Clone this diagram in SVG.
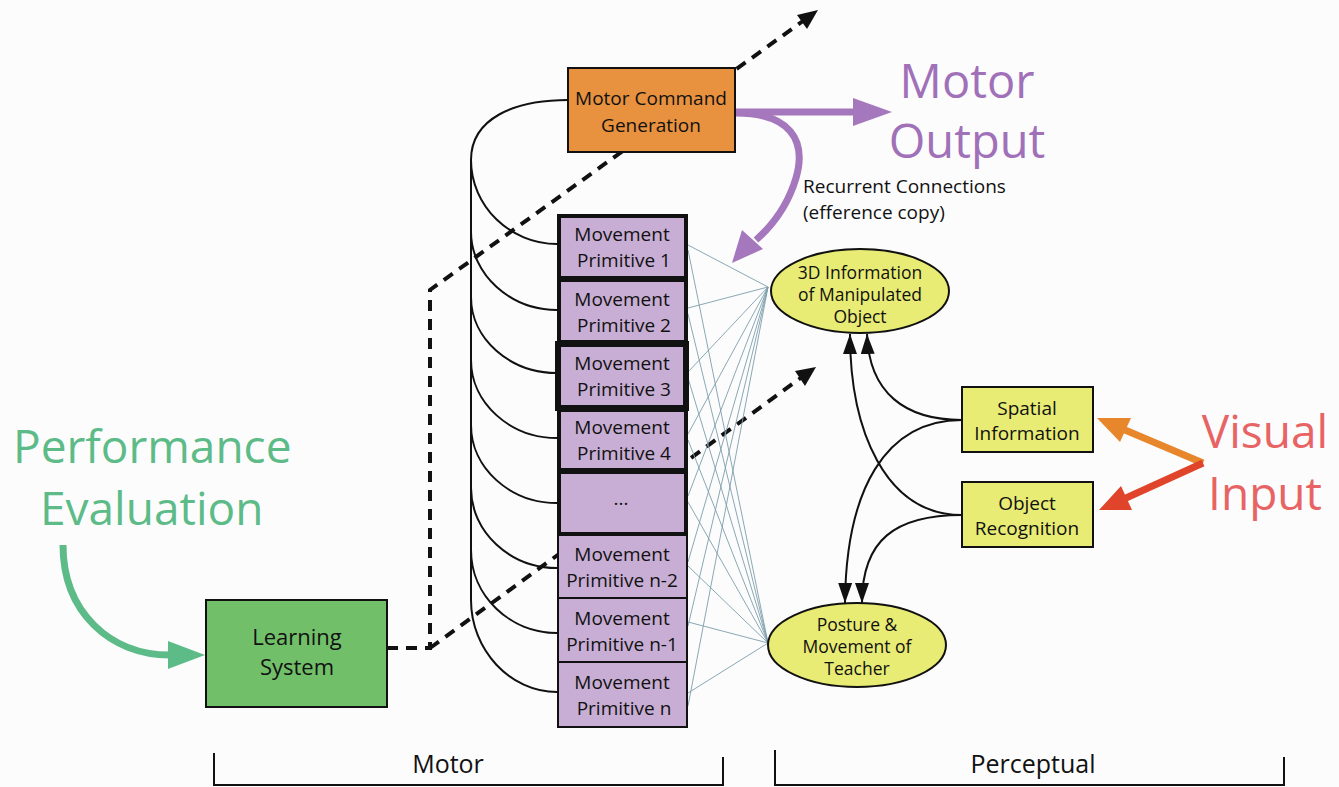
<svg xmlns="http://www.w3.org/2000/svg" width="1339" height="787" viewBox="0 0 1339 787">
<defs>
<style>
text{font-family:"Open Sans","Liberation Sans",sans-serif;fill:#111;}
.lbl{font-size:19px;text-anchor:middle;}
.elbl{font-size:17.5px;text-anchor:middle;}
.big{font-size:46px;}
.prim{fill:#c8aed4;stroke:#111;}
.dash{fill:none;stroke:#111;stroke-width:4;stroke-dasharray:11 8;}
.bus{fill:none;stroke:#111;stroke-width:2;}
.thin{stroke:#7d9eaa;stroke-width:0.9;}
.pc{fill:none;stroke:#111;stroke-width:2;}
.ell{fill:#e8ec74;stroke:#111;stroke-width:2;}
.ybox{fill:#e8ec74;stroke:#111;stroke-width:2;}
</style>
<marker id="ah" viewBox="0 0 20 14" refX="20" refY="7" markerUnits="userSpaceOnUse" markerWidth="20" markerHeight="14" orient="auto">
<path d="M0,0 L20,7 L0,14 z" fill="#111"/>
</marker>
</defs>
<rect width="1339" height="787" fill="#fcfcfd"/>

<g id="connectors">
<path class="dash" d="M387 648 L430 648 L430 290 L803 21"/>
<polygon points="818,10 797,15 807,29" fill="#111"/>
<path class="dash" d="M430 648 L802 377"/>
<polygon points="816,367 795,371 805,386" fill="#111"/>
<path class="bus" d="M568 100 C515 100 471 118 471 160 L471 600"/>
<path class="bus" d="M471 160 C471 206 510 244 557 244"/>
<path class="bus" d="M471 232 C471 274 510 310 557 310"/>
<path class="bus" d="M471 297 C471 339 510 373 557 373"/>
<path class="bus" d="M471 360 C471 403 510 438 557 438"/>
<path class="bus" d="M471 425 C471 468 510 503 557 503"/>
<path class="bus" d="M471 488 C471 532 510 568 557 568"/>
<path class="bus" d="M471 550 C471 596 510 633 557 633"/>
<path class="bus" d="M471 600 C471 650 510 692 557 692"/>
<g class="thin">
<line x1="688" y1="245" x2="768" y2="287"/><line x1="688" y1="250" x2="768" y2="643"/>
<line x1="688" y1="308" x2="768" y2="287"/><line x1="688" y1="314" x2="768" y2="643"/>
<line x1="688" y1="372" x2="768" y2="287"/><line x1="688" y1="378" x2="768" y2="643"/>
<line x1="688" y1="434" x2="768" y2="287"/><line x1="688" y1="440" x2="768" y2="643"/>
<line x1="688" y1="496" x2="768" y2="287"/><line x1="688" y1="502" x2="768" y2="643"/>
<line x1="688" y1="562" x2="768" y2="287"/><line x1="688" y1="566" x2="768" y2="643"/>
<line x1="688" y1="626" x2="768" y2="287"/><line x1="688" y1="622" x2="768" y2="643"/>
<line x1="688" y1="706" x2="768" y2="287"/><line x1="688" y1="693" x2="768" y2="643"/>
</g>
<path d="M735 112 L856 112" fill="none" stroke="#a577bc" stroke-width="7"/>
<polygon points="892,112 853,98 853,126" fill="#a577bc"/>
<path d="M735 113 C790 113 807 140 796 178 C788 205 773 225 756 240" fill="none" stroke="#a577bc" stroke-width="7"/>
<polygon points="732,263 742,230 763,249" fill="#a577bc"/>
<path d="M63 545 C63 612 110 655 170 655" fill="none" stroke="#5dbb88" stroke-width="7"/>
<polygon points="205,655 168,641 168,669" fill="#5dbb88"/>
<path d="M1203 463 L1125 430" fill="none" stroke="#e8862c" stroke-width="7"/>
<polygon points="1097,418 1131,418 1120,442" fill="#e8862c"/>
<path d="M1203 463 L1126 498" fill="none" stroke="#e0442a" stroke-width="7"/>
<polygon points="1099,510 1121,486 1132,510" fill="#e0442a"/>
<path class="pc" d="M962 420 C905 420 869 393 867 334" marker-end="url(#ah)"/>
<path class="pc" d="M962 420 C885 420 846 490 845 603" marker-end="url(#ah)"/>
<path class="pc" d="M962 515 C885 515 850 430 850 334" marker-end="url(#ah)"/>
<path class="pc" d="M962 515 C895 515 862 540 862 603" marker-end="url(#ah)"/>
</g>

<g id="performance-evaluation">
<text class="big" x="13" y="463" style="fill:#5dbb88">Performance</text>
<text class="big" x="40" y="525" style="fill:#5dbb88">Evaluation</text>
</g>

<g id="learning-system">
<rect x="206" y="600" width="181" height="107" fill="#72bf6a" stroke="#111" stroke-width="2"/>
<text class="lbl" x="297" y="645" style="font-size:22px">Learning</text>
<text class="lbl" x="297" y="675" style="font-size:22px">System</text>
</g>

<g id="motor-command-generation">
<rect x="568" y="68" width="167" height="84" fill="#e8913f" stroke="#111" stroke-width="2"/>
<text class="lbl" x="651" y="105">Motor Command</text>
<text class="lbl" x="651" y="132">Generation</text>
</g>

<g id="motor-output">
<text class="big" x="967" y="98" text-anchor="middle" style="fill:#a070b8;font-size:47px">Motor</text>
<text class="big" x="967" y="158" text-anchor="middle" style="fill:#a070b8;font-size:47px">Output</text>
</g>

<g id="recurrent-label">
<text x="803" y="193" style="font-size:19px">Recurrent Connections</text>
<text x="803" y="219" style="font-size:19px">(efference copy)</text>
</g>

<g id="primitive-n-2">
<rect class="prim" x="558" y="534" width="129" height="64" stroke-width="2"/>
<text class="lbl" x="622" y="561">Movement</text>
<text class="lbl" x="622" y="587">Primitive n-2</text>
</g>
<g id="primitive-n-1">
<rect class="prim" x="558" y="598" width="129" height="64" stroke-width="2"/>
<text class="lbl" x="622" y="625">Movement</text>
<text class="lbl" x="622" y="651">Primitive n-1</text>
</g>
<g id="primitive-n">
<rect class="prim" x="558" y="662" width="129" height="65" stroke-width="2"/>
<text class="lbl" x="622" y="689">Movement</text>
<text class="lbl" x="624" y="715">Primitive n</text>
</g>
<g id="primitive-dots">
<rect class="prim" x="559" y="472" width="127" height="62" stroke-width="4"/>
<text class="lbl" x="621" y="505">...</text>
</g>
<g id="primitive-4">
<rect class="prim" x="559" y="410" width="127" height="60" stroke-width="4"/>
<text class="lbl" x="622" y="434">Movement</text>
<text class="lbl" x="624" y="460">Primitive 4</text>
</g>
<g id="primitive-2">
<rect class="prim" x="559" y="280" width="127" height="62" stroke-width="4"/>
<text class="lbl" x="622" y="306">Movement</text>
<text class="lbl" x="624" y="332">Primitive 2</text>
</g>
<g id="primitive-1">
<rect class="prim" x="559" y="216" width="127" height="62" stroke-width="4"/>
<text class="lbl" x="622" y="241">Movement</text>
<text class="lbl" x="624" y="267">Primitive 1</text>
</g>
<g id="primitive-3">
<rect class="prim" x="558" y="344" width="128" height="64" stroke-width="6"/>
<text class="lbl" x="622" y="370">Movement</text>
<text class="lbl" x="624" y="396">Primitive 3</text>
</g>

<g id="object-3d-info">
<ellipse class="ell" cx="860" cy="291" rx="89" ry="42"/>
<text class="elbl" x="860" y="279">3D Information</text>
<text class="elbl" x="860" y="301">of Manipulated</text>
<text class="elbl" x="860" y="323">Object</text>
</g>

<g id="posture-teacher">
<ellipse class="ell" cx="857" cy="645" rx="89" ry="42"/>
<text class="elbl" x="857" y="631">Posture &amp;</text>
<text class="elbl" x="857" y="653">Movement of</text>
<text class="elbl" x="857" y="675">Teacher</text>
</g>

<g id="spatial-information">
<rect class="ybox" x="962" y="387" width="131" height="65"/>
<text class="lbl" x="1027" y="415">Spatial</text>
<text class="lbl" x="1027" y="440">Information</text>
</g>

<g id="object-recognition">
<rect class="ybox" x="962" y="482" width="131" height="65"/>
<text class="lbl" x="1027" y="510">Object</text>
<text class="lbl" x="1027" y="535">Recognition</text>
</g>

<g id="visual-input">
<text class="big" x="1265" y="448" text-anchor="middle" style="fill:#e86464">Visual</text>
<text class="big" x="1265" y="510" text-anchor="middle" style="fill:#e86464">Input</text>
</g>

<g id="axis-labels">
<path d="M214 753 L214 785 L723 785 L723 757" fill="none" stroke="#111" stroke-width="2"/>
<path d="M775 750 L775 785 L1284 785 L1284 757" fill="none" stroke="#111" stroke-width="2"/>
<text x="448" y="773" text-anchor="middle" style="font-size:25px">Motor</text>
<text x="1033" y="773" text-anchor="middle" style="font-size:25px">Perceptual</text>
</g>
</svg>
